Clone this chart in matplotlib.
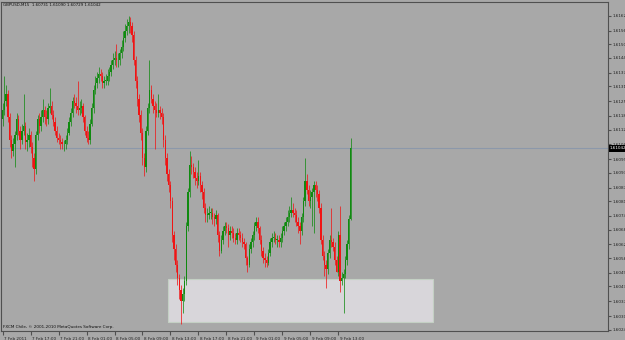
import matplotlib.pyplot as plt
import numpy as np
from matplotlib.patches import Rectangle
import matplotlib.transforms as mtransforms

# GBPUSD M15, 7-9 Feb 2011; prices kept as pips above 1.6000
BASE = 1.6

open_pips = [
    117, 121, 125, 128, 118, 108, 103, 106, 110, 117, 112, 108, 112, 114, 107, 108, 110, 105, 100, 95,
    110, 117, 114, 118, 121, 118, 117, 122, 123, 119, 116, 112, 109, 108, 107, 106, 106, 108, 111, 116,
    120, 125, 124, 123, 121, 122, 123, 118, 112, 109, 108, 115, 122, 130, 133, 135, 137, 136, 133, 134,
    134, 136, 138, 141, 143, 144, 143, 143, 146, 149, 153, 156, 158, 160, 158, 154, 143, 134, 126, 119,
    111, 100, 96, 112, 122, 130, 126, 123, 121, 120, 121, 120, 118, 108, 100, 93, 88, 81, 66, 60,
    53, 47, 42, 37, 40, 46, 70, 85, 97, 96, 94, 91, 90, 92, 88, 85, 78, 75, 75, 76,
    76, 74, 73, 75, 66, 59, 64, 68, 70, 69, 66, 68, 67, 65, 64, 67, 66, 65, 63, 62,
    56, 53, 60, 63, 66, 70, 72, 69, 64, 59, 56, 55, 54, 58, 63, 65, 65, 64, 64, 63,
    65, 68, 70, 72, 74, 76, 77, 76, 75, 72, 70, 68, 74, 81, 90, 86, 81, 83, 85, 88,
    86, 84, 78, 64, 57, 53, 51, 58, 64, 63, 61, 55, 50, 66, 46, 47, 49, 55, 62, 73.1,
]
high_pips = [
    124, 136, 132, 130, 120, 110, 109, 112, 120, 119, 114, 115, 128, 116, 111, 113, 112, 107, 102, 112,
    119, 120, 121, 126, 123, 121, 124, 131, 125, 121, 118, 114, 111, 110, 109, 108, 110, 113, 118, 122,
    127, 128, 127, 134, 125, 126, 124, 119, 114, 112, 117, 124, 132, 136, 138, 140, 139, 138, 136, 137,
    139, 140, 143, 146, 147, 150, 146, 148, 152, 156, 159, 161, 162.5, 162, 160, 156, 145, 136, 128, 121,
    113, 102, 114, 124, 143, 132, 128, 125, 124, 128, 123, 122, 120, 110, 102, 95, 90, 83, 68, 62,
    55, 49, 44, 43, 48, 72, 87, 103, 101, 98, 96, 94, 99, 94, 90, 87, 80, 78, 79, 78,
    78, 76, 77, 76, 68, 66, 70, 72, 72, 71, 70, 70, 69, 67, 69, 69, 68, 67, 65, 63,
    57, 62, 65, 68, 72, 74, 74, 70, 66, 61, 58, 57, 60, 65, 67, 68, 67, 66, 66, 67,
    70, 72, 74, 77, 79, 83, 80, 78, 77, 74, 72, 76, 83, 100, 93, 88, 86, 87, 90, 90,
    88, 86, 80, 66, 59, 55, 60, 66, 78, 65, 63, 57, 68, 79, 50, 51, 57, 64, 75, 109.0,
]
low_pips = [
    114, 119, 123, 116, 105, 100, 101, 96, 108, 110, 104, 106, 110, 104, 103, 105, 102, 96, 90, 93,
    108, 111, 112, 116, 115, 114, 115, 120, 117, 114, 110, 107, 106, 104, 104, 103, 104, 106, 110, 114,
    118, 122, 120, 119, 119, 120, 116, 110, 107, 106, 106, 114, 120, 128, 131, 133, 134, 131, 131, 132,
    132, 134, 136, 139, 141, 140, 140, 141, 144, 147, 151, 154, 155, 155, 151, 141, 131, 123, 116, 108,
    97, 92, 94, 110, 120, 124, 120, 104, 118, 118, 117, 115, 105, 97, 90, 85, 78, 63, 55, 50,
    44, 38, 27, 32, 37, 44, 68, 83, 93, 91, 88, 87, 88, 85, 82, 76, 72, 72, 73, 73,
    71, 70, 71, 63, 57, 58, 62, 66, 67, 61, 64, 65, 63, 62, 62, 64, 63, 61, 60, 53,
    50, 52, 58, 61, 64, 68, 67, 62, 57, 54, 52, 52, 53, 57, 61, 63, 62, 61, 61, 61,
    63, 66, 68, 70, 72, 74, 74, 72, 70, 67, 62, 66, 72, 79, 84, 79, 78, 70, 67, 83,
    81, 76, 62, 55, 48, 43, 49, 56, 61, 59, 53, 50, 48, 41, 44, 32, 47, 53, 60, 72.9,
]
close_pips = [
    121, 125, 128, 118, 108, 103, 106, 110, 117, 112, 108, 112, 114, 107, 108, 110, 105, 100, 95, 110,
    117, 114, 118, 121, 118, 117, 122, 123, 119, 116, 112, 109, 108, 107, 106, 106, 108, 111, 116, 120,
    125, 124, 123, 121, 122, 123, 118, 112, 109, 108, 115, 122, 130, 133, 135, 137, 136, 133, 134, 134,
    136, 138, 141, 143, 144, 143, 143, 146, 149, 153, 156, 158, 160, 158, 154, 143, 134, 126, 119, 111,
    100, 96, 112, 122, 130, 126, 123, 121, 120, 121, 120, 118, 108, 100, 93, 88, 81, 66, 60, 53,
    47, 42, 37, 40, 46, 70, 85, 97, 96, 94, 91, 90, 92, 88, 85, 78, 75, 75, 76, 76,
    74, 73, 75, 66, 59, 64, 68, 70, 69, 66, 68, 67, 65, 64, 67, 66, 65, 63, 62, 56,
    53, 60, 63, 66, 70, 72, 69, 64, 59, 56, 55, 54, 58, 63, 65, 65, 64, 64, 63, 65,
    68, 70, 72, 74, 76, 77, 76, 75, 72, 70, 68, 74, 81, 90, 86, 81, 83, 85, 88, 86,
    84, 78, 64, 57, 53, 51, 58, 64, 63, 61, 55, 50, 66, 46, 47, 49, 55, 62, 73.1, 104.2,
]

time_labels = ['7 Feb 2011', '7 Feb 17:00', '7 Feb 21:00', '8 Feb 01:00', '8 Feb 05:00',
               '8 Feb 09:00', '8 Feb 13:00', '8 Feb 17:00', '8 Feb 21:00', '9 Feb 01:00',
               '9 Feb 05:00', '9 Feb 09:00', '9 Feb 13:00']
label_bars = [0, 16, 32, 48, 64, 80, 96, 112, 128, 144, 160, 176, 192]

price_ticks = [1.61625, 1.61560, 1.61500, 1.61440, 1.61375, 1.61315, 1.61250, 1.61185,
               1.61125, 1.61060, 1.60995, 1.60935, 1.60870, 1.60810, 1.60745, 1.60685,
               1.60620, 1.60560, 1.60495, 1.60435, 1.60370, 1.60305, 1.60245]
last_price = 1.61042
title = 'GBPUSD,M15  1.60731 1.61090 1.60729 1.61042'

# support zone drawn on the chart
zone_bars = (94.3, 246.3)
zone_prices = (1.60278, 1.60467)

BG = '#a8a8a8'
UP = '#108a10'
DOWN = '#f01414'
FS = 3.0

o = BASE + np.array(open_pips) / 10000
h = BASE + np.array(high_pips) / 10000
l = BASE + np.array(low_pips) / 10000
c = BASE + np.array(close_pips) / 10000
x = np.arange(len(c))
cols = np.where(c >= o, UP, DOWN)

fig = plt.figure(figsize=(6.25, 3.4), dpi=100, facecolor=BG)
ax = fig.add_axes([0.001, 0.0265, 0.972, 0.9676])
ax.set_facecolor(BG)

ax.add_patch(Rectangle((zone_bars[0], zone_prices[0]), zone_bars[1] - zone_bars[0],
                       zone_prices[1] - zone_prices[0], facecolor='#d8d6da',
                       edgecolor='#c4d0c4', linewidth=0.8, zorder=1))

ax.axhline(last_price, color='#8c98aa', linewidth=0.8, zorder=2)

ax.vlines(x, l, h, colors=cols, linewidth=0.7, alpha=0.75, zorder=3)
body = np.maximum(np.abs(c - o), 0.00003)
ax.bar(x, body, bottom=np.minimum(o, c), width=0.75, color=cols, linewidth=0, zorder=4)

ax.set_xlim(-1.14, 346.3)
ax.set_ylim(1.602391, 1.616862)

for s in ax.spines.values():
    s.set_color('#505050')
    s.set_linewidth(0.8)

ax.yaxis.tick_right()
ax.set_yticks(price_ticks)
ax.set_yticklabels([f'{v:.5f}' for v in price_ticks])
ax.tick_params(axis='y', labelsize=FS, length=2, pad=1.5, colors='#505050', labelcolor='#202020')

ax.set_xticks(label_bars)
ax.set_xticklabels(time_labels)
ax.tick_params(axis='x', labelsize=FS, length=3, pad=1.0, colors='#505050', labelcolor='#202020')
shift = mtransforms.ScaledTranslation(1.5 / 100, 0, fig.dpi_scale_trans)
for t in ax.get_xticklabels():
    t.set_ha('left')
    t.set_transform(t.get_transform() + shift)

ax.text(1.003, last_price, f'{last_price:.5f}', transform=ax.get_yaxis_transform(),
        fontsize=FS, color='white', va='center', ha='left', zorder=6, clip_on=False,
        bbox=dict(facecolor='black', edgecolor='none', pad=1.0))

fig.text(3 / 625, 1 - 5 / 340, title, fontsize=2.9, color='#101010', va='center')
fig.text(3 / 625, 1 - 327 / 340, 'FXCM Chile, © 2001-2010 MetaQuotes Software Corp.',
         fontsize=FS, color='#101010', va='center')

fig.savefig('out.png', dpi=100, facecolor=BG)
